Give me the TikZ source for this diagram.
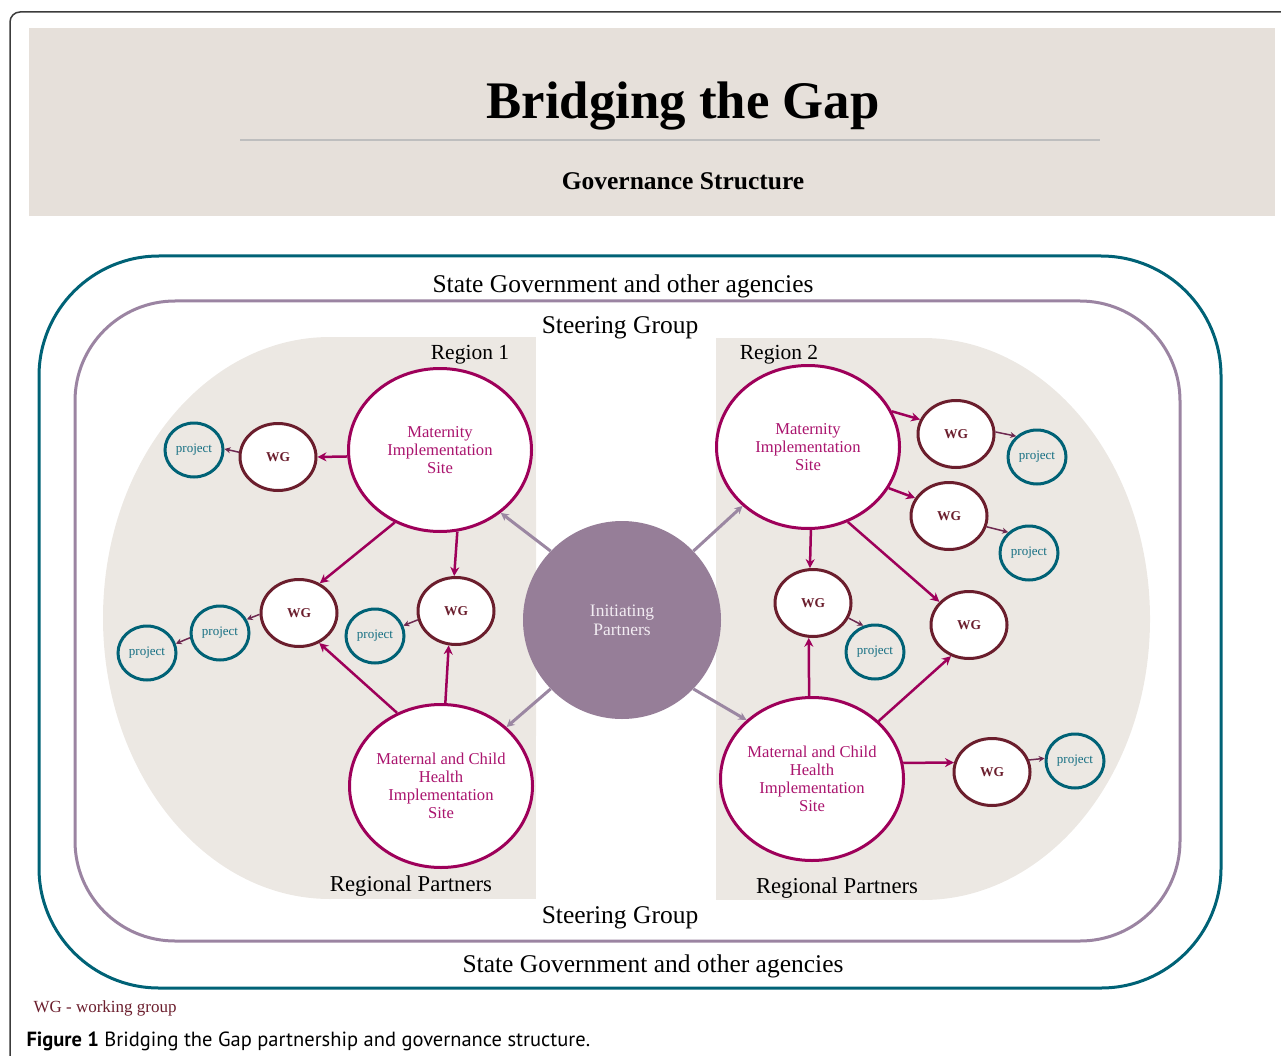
\documentclass[tikz,border=0pt]{standalone}
\usepackage{fontspec}
\setmainfont{Liberation Serif}
\newfontfamily\capfont{PT Sans}
\usetikzlibrary{shapes.geometric, arrows.meta, positioning}

\definecolor{bandfill}{RGB}{230,224,218}
\definecolor{regionfill}{RGB}{236,232,227}
\definecolor{ringteal}{RGB}{0,98,118}
\definecolor{ringpurple}{RGB}{155,132,162}
\definecolor{siteline}{RGB}{158,0,90}
\definecolor{sitetext}{RGB}{170,20,110}
\definecolor{wgline}{RGB}{107,30,45}
\definecolor{projline}{RGB}{0,98,118}
\definecolor{projtext}{RGB}{20,110,130}
\definecolor{smallline}{RGB}{110,40,80}
\definecolor{ipfill}{RGB}{150,126,152}
\definecolor{ipline}{RGB}{155,135,162}
\definecolor{iptext}{RGB}{242,236,242}
\definecolor{frameline}{RGB}{60,60,60}
\definecolor{rulecolor}{RGB}{190,190,190}

\tikzset{
  site/.style={ellipse, draw=siteline, line width=3pt, fill=white, text=sitetext,
    minimum width=183pt, minimum height=163pt, inner sep=0pt, align=center,
    font=\fontsize{16.6}{18}\selectfont},
  wg/.style={ellipse, draw=wgline, line width=3pt, fill=white, text=wgline,
    minimum width=76pt, minimum height=67pt, inner sep=0pt,
    font=\fontsize{13.5}{15}\selectfont\bfseries},
  proj/.style={ellipse, draw=projline, line width=3pt, text=projtext,
    minimum width=58pt, minimum height=54pt, inner sep=0pt,
    font=\fontsize{13}{14}\selectfont},
  sitearrow/.style={draw=siteline, line width=2.5pt, -{Stealth[length=9pt,width=9pt]}},
  smallarrow/.style={draw=smallline, line width=1.5pt, -{Stealth[length=6pt,width=6pt]}},
  iparrow/.style={draw=ipline, line width=3pt, -{Stealth[length=8pt,width=8pt]}},
  ringtext/.style={font=\fontsize{25.5}{28}\selectfont},
  regiontext/.style={font=\fontsize{21.5}{24}\selectfont},
}

\begin{document}
\begin{tikzpicture}[x=1pt, y=-1pt]
\useasboundingbox (0,0) rectangle (1281,1056);

% frame and header
\draw[frameline, line width=1.5pt, rounded corners=10pt] (10,1056) |- (1281,12);
\fill[bandfill] (29,28) rectangle (1275,216);
\node[font=\fontsize{52.8}{56}\selectfont\bfseries] (title) at (683,106) {Bridging the Gap};
\draw[rulecolor, line width=2pt] (240,140) -- (1100,140);
\node[font=\fontsize{25.5}{28}\selectfont\bfseries] (subtitle) at (683,181) {Governance Structure};

% rings
\draw[ringteal, line width=3pt, rounded corners=120pt] (39,256) rectangle (1221,988);
\draw[ringpurple, line width=3pt, rounded corners=100pt] (75,301) rectangle (1180,941);

% regions
\begin{scope}
\clip (103,337) rectangle (536,899);
\fill[regionfill] (330,618) ellipse[x radius=227, y radius=281];
\fill[regionfill] (330,337) rectangle (536,899);
\end{scope}
\begin{scope}
\clip (716,338) rectangle (1151,900);
\fill[regionfill] (923,619) ellipse[x radius=227, y radius=281];
\fill[regionfill] (716,338) rectangle (923,900);
\end{scope}

\node[ringtext] (stateTop) at (623,286) {State Government and other agencies};
\node[ringtext] (stateBot) at (653,966) {State Government and other agencies};
\node[ringtext] (steerTop) at (620,328) {Steering Group};
\node[ringtext] (steerBot) at (620,918) {Steering Group};
\node[regiontext] (reg1) at (470,355) {Region 1};
\node[regiontext] (reg2) at (779,355) {Region 2};
\node[font=\fontsize{22.7}{25}\selectfont] (partners1) at (411,886) {Regional Partners};
\node[font=\fontsize{22.7}{25}\selectfont] (partners2) at (837,888) {Regional Partners};

% centre
\node[circle, fill=ipfill, minimum size=198pt, text=iptext, align=center,
  font=\fontsize{17.5}{19}\selectfont] (ip) at (622,620) {Initiating\\Partners};

% region 1
\node[site] (mis1) at (440,450) {Maternity\\Implementation\\Site};
\node[site] (mch1) at (441,786) {Maternal and Child\\Health\\Implementation\\Site};
\node[wg] (wg1) at (278,457) {WG};
\node[wg] (wg2) at (299,613) {WG};
\node[wg] (wg3) at (456,611) {WG};
\node[proj] (p1) at (194,450) {project};
\node[proj] (p2) at (375,636) {project};
\node[proj] (p3) at (220,633) {project};
\node[proj] (p4) at (147,653) {project};

% region 2
\node[site] (mis2) at (808,447) {Maternity\\Implementation\\Site};
\node[site] (mch2) at (812,779) {Maternal and Child\\Health\\Implementation\\Site};
\node[wg] (wg4) at (956,434) {WG};
\node[wg] (wg5) at (949,516) {WG};
\node[wg] (wg6) at (813,603) {WG};
\node[wg] (wg7) at (969,625) {WG};
\node[wg] (wg8) at (992,772) {WG};
\node[proj] (p5) at (1037,457) {project};
\node[proj] (p6) at (1029,553) {project};
\node[proj] (p7) at (875,652) {project};
\node[proj] (p8) at (1075,761) {project};

% connectors
\draw[iparrow] (ip.136) -- (mis1.314);
\draw[iparrow] (ip.224) -- (mch1.42);
\draw[iparrow] (ip.44) -- (mis2.222);
\draw[iparrow] (ip.316) -- (mch2.138);

\draw[sitearrow] (mis1.184) -- (wg1.0);
\draw[sitearrow] (mis1.238) -- (wg2.55);
\draw[sitearrow] (mis1.282) -- (wg3.93);
\draw[sitearrow] (mch1.121) -- (wg2.304);
\draw[sitearrow] (mch1.87) -- (wg3.258);
\draw[smallarrow] (wg1.173) -- (p1.2);
\draw[smallarrow] (wg3.193) -- (p2.20);
\draw[smallarrow] (wg2.182) -- (p3.27);
\draw[smallarrow] (p3.189) -- (p4.18);

\draw[sitearrow] (mis2.23) -- (wg4.158);
\draw[sitearrow] (mis2.333) -- (wg5.152);
\draw[sitearrow] (mis2.272) -- (wg6.95);
\draw[sitearrow] (mis2.298) -- (wg7.142);
\draw[sitearrow] (mch2.92) -- (wg6.263);
\draw[sitearrow] (mch2.41) -- (wg7.240);
\draw[sitearrow] (mch2.10) -- (wg8.166);
\draw[smallarrow] (wg4.3) -- (p5.135);
\draw[smallarrow] (wg5.344) -- (p6.135);
\draw[smallarrow] (wg6.337) -- (p7.114);
\draw[smallarrow] (wg8.18) -- (p8.175);

% legend and caption
\node[anchor=west, text=wgline, font=\fontsize{17}{19}\selectfont] (legend) at (30,1008) {WG - working group};
\node[anchor=west, font=\capfont\fontsize{20.5}{22}\selectfont] (caption) at (23,1041) {\textbf{Figure 1} Bridging the Gap partnership and governance structure.};
\end{tikzpicture}
\end{document}
